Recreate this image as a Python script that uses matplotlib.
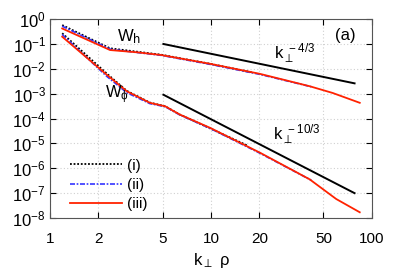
import matplotlib
matplotlib.use("Agg")
import matplotlib.pyplot as plt
import numpy as np
from matplotlib.ticker import FixedLocator, FixedFormatter, LogFormatterMathtext, NullLocator

plt.rcParams["font.family"] = ["Liberation Sans", "DejaVu Sans"]
plt.rcParams["mathtext.default"] = "regular"

# W_h spectra
kh_i = [1.19, 2.36, 4.9, 9.85, 18.0]
wh_i = [0.575, 0.067, 0.037, 0.016, 7.2e-3]
kh_ii = [1.19, 2.36, 3.5, 4.9, 9.85, 20.1, 42.0]
wh_ii = [0.52, 0.062, 0.045, 0.035, 0.0152, 6.0e-3, 1.9e-3]
kh_iii = [1.19, 2.36, 3.5, 4.9, 9.85, 20.1, 41.0, 57.0, 84.0]
wh_iii = [0.42, 0.057, 0.046, 0.036, 0.016, 6.3e-3, 2.0e-3, 1.07e-3, 4.3e-4]

# W_phi spectra
kp_i = [1.19, 2.25, 3.0, 4.17, 5.2, 6.4, 9.9, 17.0]
wp_i = [0.27, 6.5e-3, 1.3e-3, 4.4e-4, 3.1e-4, 1.45e-4, 4.0e-5, 8.0e-6]
kp_ii = [1.19, 2.25, 3.0, 4.17, 5.2, 6.4, 9.9, 20.2, 42.0]
wp_ii = [0.24, 5.0e-3, 1.1e-3, 4.0e-4, 3.0e-4, 1.4e-4, 4.0e-5, 4.0e-6, 3.3e-7]
kp_iii = [1.19, 2.25, 3.0, 4.17, 5.2, 6.4, 9.9, 20.2, 41.0, 60.0, 84.0]
wp_iii = [0.196, 5.8e-3, 1.25e-3, 4.3e-4, 3.1e-4, 1.45e-4, 4.2e-5, 4.2e-6, 3.6e-7, 5.8e-8, 1.7e-8]

# reference power laws
k_ref = [5.06, 78.0]
ref_h0 = 0.1
ref_p0 = 9.1e-4

xticks = [1, 2, 5, 10, 20, 50, 100]

fig = plt.figure(figsize=(3.94, 2.77), dpi=100)
ax = fig.add_axes([0.127, 0.213, 0.817, 0.718])

k_ref = np.array(k_ref)
ax.plot(k_ref, ref_h0 * (k_ref / k_ref[0]) ** (-4 / 3), color="black", lw=1.4)
ax.plot(k_ref, ref_p0 * (k_ref / k_ref[0]) ** (-10 / 3), color="black", lw=1.4)

ax.plot(kh_i, wh_i, color="black", ls=(0, (1, 1)), lw=1.3, label="(i)")
ax.plot(kh_ii, wh_ii, color="#3333ff", ls=(0, (3, 1, 1, 1)), lw=1.2, label="(ii)")
ax.plot(kh_iii, wh_iii, color="#ff2200", lw=1.3, label="(iii)")
ax.plot(kp_i, wp_i, color="black", ls=(0, (1, 1)), lw=1.3)
ax.plot(kp_ii, wp_ii, color="#3333ff", ls=(0, (3, 1, 1, 1)), lw=1.2)
ax.plot(kp_iii, wp_iii, color="#ff2200", lw=1.3)

ax.set_xscale("log")
ax.set_yscale("log")
ax.set_xlim(1, 100)
ax.set_ylim(1e-8, 1)

ax.xaxis.set_major_locator(FixedLocator(xticks))
ax.xaxis.set_major_formatter(FixedFormatter([str(t) for t in xticks]))
ax.xaxis.set_minor_locator(NullLocator())
ax.yaxis.set_major_locator(FixedLocator([10.0 ** e for e in range(-8, 1)]))
ax.yaxis.set_major_formatter(LogFormatterMathtext())
ax.yaxis.set_minor_locator(NullLocator())
ax.tick_params(axis="x", labelsize=11, direction="in", top=True, length=4, pad=10)
ax.tick_params(axis="y", labelsize=12, direction="in", right=True, length=4, pad=3)
ax.grid(True, color="#d0d0d0", ls=(0, (1, 2)), lw=0.8)
for s in ax.spines.values():
    s.set_color("#555555")

ax.text(3.1, 0.2, r"W$_\mathrm{h}$", fontsize=12, ha="center", va="center")
ax.text(2.6, 9e-4, r"W$_\phi$", fontsize=12, ha="center", va="center")
ax.text(33, 0.042, r"k$_\perp^{\ -4/3}$", fontsize=12, ha="center", va="center")
ax.text(34, 2.3e-5, r"k$_\perp^{\ -10/3}$", fontsize=12, ha="center", va="center")
ax.text(0.95, 0.92, "(a)", fontsize=12, ha="right", va="center", transform=ax.transAxes)
ax.set_xlabel(r"k$_\perp$ $\rho$", fontsize=12, labelpad=4)

ax.legend(loc="lower left", bbox_to_anchor=(0.02, -0.035), frameon=False, fontsize=11,
          handlelength=3.4, handletextpad=0.3, labelspacing=0.35)

fig.savefig("out.png", dpi=100)
